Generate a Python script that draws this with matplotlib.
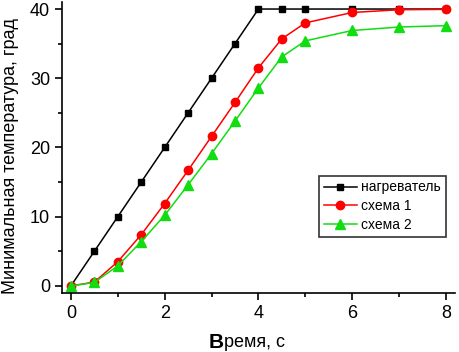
import matplotlib
matplotlib.use("Agg")
import matplotlib.pyplot as plt
from matplotlib.ticker import MultipleLocator

plt.rcParams['font.family'] = ['Liberation Sans', 'DejaVu Sans']

t_heater = [0, 0.5, 1, 1.5, 2, 2.5, 3, 3.5, 4, 4.5, 5, 6, 7, 8]
heater = [0, 5, 10, 15, 20, 25, 30, 35, 40, 40, 40, 40, 40, 40]
t_s1 = [0, 0.5, 1, 1.5, 2, 2.5, 3, 3.5, 4, 4.5, 5, 6, 7, 8]
scheme1 = [0, 0.55, 3.5, 7.4, 11.9, 16.7, 21.6, 26.5, 31.5, 35.7, 38.0, 39.5, 39.9, 39.95]
t_s2 = [0, 0.5, 1, 1.5, 2, 2.5, 3, 3.5, 4, 4.5, 5, 6, 7, 8]
scheme2 = [0, 0.5, 2.9, 6.4, 10.2, 14.6, 19.1, 23.8, 28.6, 33.1, 35.4, 36.9, 37.4, 37.6]
labels = ['нагреватель', 'схема 1', 'схема 2']

fig = plt.figure(figsize=(4.59, 3.52), dpi=100)
ax = fig.add_axes([0.135, 0.168, 0.856, 0.826])

ax.plot(t_heater, heater, color='black', marker='s', markersize=5, lw=1.1, label=labels[0])
ax.plot(t_s1, scheme1, color='#ff0000', marker='o', markersize=6, lw=1.1, label=labels[1])
ax.plot(t_s2, scheme2, color='#11dd11', marker='^', markersize=7, lw=1.1, label=labels[2])

ax.set_xlim(-0.19, 8.19)
ax.set_ylim(-1, 41)
ax.xaxis.set_major_locator(MultipleLocator(2))
ax.xaxis.set_minor_locator(MultipleLocator(1))
ax.yaxis.set_major_locator(MultipleLocator(10))
ax.yaxis.set_minor_locator(MultipleLocator(5))
for s in ['top', 'right']:
    ax.spines[s].set_visible(False)
for s in ['left', 'bottom']:
    ax.spines[s].set_linewidth(1.2)
ax.tick_params(which='major', direction='out', length=5, width=1.2, labelsize=13)
ax.tick_params(which='minor', direction='out', length=3, width=1.2)

ax.set_ylabel('Минимальная температура, град', fontsize=13)
ax.yaxis.set_label_coords(-0.109, 0.47)
fig.text(0.487, 0.028, 'В', ha='right', va='center', fontsize=15, fontweight='semibold')
fig.text(0.487, 0.028, 'ремя, с', ha='left', va='center', fontsize=13)

leg = ax.legend(loc='lower right', bbox_to_anchor=(0.977, 0.192), fontsize=10,
                frameon=True, fancybox=False, edgecolor='black', handlelength=2.4,
                borderpad=0.35, labelspacing=0.35, handletextpad=0.3, borderaxespad=0)
leg.get_frame().set_linewidth(1.2)

fig.savefig('out.png', dpi=100)
